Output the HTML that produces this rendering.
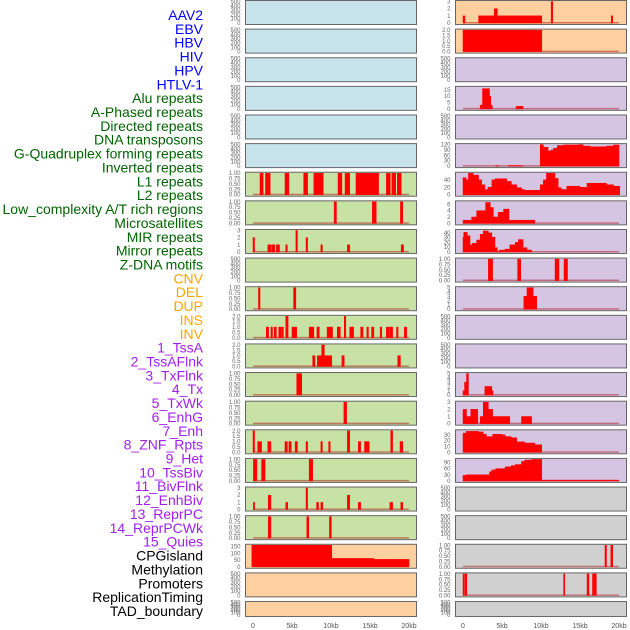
<!DOCTYPE html>
<html><head><meta charset="utf-8">
<style>
html,body{margin:0;padding:0;background:#fff;}
svg{display:block;font-family:"Liberation Sans",sans-serif;}
</style></head>
<body>
<svg id="chart" width="630" height="630" viewBox="0 0 630 630"></svg>
<script>
// ---- labels ----
const featureLabels = ["AAV2","EBV","HBV","HIV","HPV","HTLV-1","Alu repeats","A-Phased repeats","Directed repeats","DNA transposons","G-Quadruplex forming repeats","Inverted repeats","L1 repeats","L2 repeats","Low_complexity A/T rich regions","Microsatellites","MIR repeats","Mirror repeats","Z-DNA motifs","CNV","DEL","DUP","INS","INV","1_TssA","2_TssAFlnk","3_TxFlnk","4_Tx","5_TxWk","6_EnhG","7_Enh","8_ZNF_Rpts","9_Het","10_TssBiv","11_BivFlnk","12_EnhBiv","13_ReprPC","14_ReprPCWk","15_Quies","CPGisland","Methylation","Promoters","ReplicationTiming","TAD_boundary"];
const xTickValues = [0,5,10,15,20];
const xTickLabels = ["0","5kb","10kb","15kb","20kb"];

// ---- data: [startKb, endKb, value] ----
const alu = [[0.9,1.3,1],[1.6,2.2,1],[4.1,4.6,1],[6.5,7.0,1],[7.8,9.0,1],[10.9,11.4,1],[11.8,12.4,1],[13.2,16.1,1],[17.1,17.6,1],[17.8,18.3,1],[18.5,19.0,1]];
const aPhased = [[10.4,10.7,1],[15.3,15.8,1],[18.9,19.2,1]];
const directed = [[0.0,0.2,2],[1.9,2.3,1],[2.4,2.8,1],[3.0,3.4,1],[4.2,4.4,1],[5.5,5.7,3],[6.8,7.0,2],[8.7,8.9,1],[12.1,12.4,1],[19.0,19.3,1]];
const gQuad = [[0.7,0.9,1],[5.2,5.5,1]];
const inverted = [[1.7,2.0,1],[2.3,2.5,1],[2.7,3.0,1],[3.3,3.6,1],[3.7,3.9,1],[4.2,4.5,2],[5.0,5.6,1],[7.2,7.8,1],[8.2,8.5,1],[9.5,10.2,1],[10.8,11.2,1],[11.7,11.9,2],[12.4,12.9,1],[13.8,14.1,1],[14.6,14.8,1],[15.2,15.5,1],[16.3,16.5,1],[17.1,17.5,1],[17.6,17.9,1],[18.4,18.6,1],[19.4,19.7,1]];
const l1 = [[7.65,7.95,1],[8.25,8.8,1],[8.8,9.15,2],[9.15,10.1,1],[11.4,11.7,1],[18.55,18.9,1]];
const l2 = [[5.6,6.25,1]];
const lowComplexity = [[11.65,12.0,1]];
const microsat = [[0.0,0.2,2],[0.6,1.1,1],[1.9,2.3,1],[4.1,4.4,1],[4.6,4.9,1],[5.4,5.7,1],[6.8,7.0,1],[8.7,8.9,1],[9.7,9.9,1],[12.1,12.4,2],[13.5,13.8,1],[14.3,14.6,1],[14.6,14.9,1],[17.65,17.9,2],[18.85,19.2,1]];
const mir = [[0.05,0.5,1],[1.1,1.55,1],[7.2,7.65,1]];
const mirror = [[0.05,0.2,1],[1.95,2.3,2],[4.2,4.45,1],[6.8,7.0,3],[8.15,8.4,1],[8.7,8.95,1],[12.1,12.4,2],[13.5,13.8,1],[17.55,17.9,1],[18.95,19.2,1]];
const zdna = [[1.95,2.3,1],[6.9,7.15,1],[9.8,10.05,1]];
const cnv = [[-0.15,10.1,160],[10.1,15.5,62],[15.5,20,55]];
const ins = [[0,0.25,1],[2.0,10.1,1],[4.0,4.4,2],[11.3,11.5,3],[19.0,19.2,1]];
const inv = [[0,10.1,2]];
const tssAFlnk = [[2.2,2.5,3],[2.5,3.4,16],[3.4,3.5,10],[3.5,3.75,3],[6.8,7.7,2]];
const tx = [[4.2,4.5,3],[5.8,7.65,3],[9.9,10.3,120],[10.3,10.9,105],[10.9,11.3,85],[11.3,11.6,90],[11.6,12.1,100],[12.1,12.9,115],[12.9,14.8,118],[14.8,15.4,120],[15.4,16.3,112],[16.3,18.4,108],[18.4,19.3,112],[19.3,20,118]];
const txWk = [[0,0.4,46],[0.4,0.7,40],[0.7,1.3,60],[1.3,2.0,53],[2.0,2.4,40],[2.4,2.8,27],[2.8,3.2,14],[3.2,3.7,20],[3.7,4.1,40],[4.1,5.6,43],[5.6,6.2,36],[6.2,6.9,27],[6.9,7.5,19],[7.5,7.9,14],[7.9,9.9,12],[9.9,10.3,27],[10.3,10.7,40],[10.7,11.8,60],[11.8,12.2,44],[12.2,12.6,19],[12.6,13.3,14],[13.3,15.0,23],[15.0,15.9,20],[15.9,18.4,31],[18.4,19.3,27],[19.3,20.1,23]];
const enhG = [[0,1.1,1],[1.1,1.75,2],[1.75,2.9,4],[2.9,3.5,6.6],[3.5,3.9,5],[3.9,4.5,2],[4.5,5.2,3.5],[5.2,5.9,4.5],[5.9,9.2,1]];
const enh = [[0,0.1,31],[0.1,0.55,41],[0.55,0.9,34],[0.9,1.2,15],[1.2,1.75,18],[1.75,2.2,25],[2.2,2.6,37],[2.6,3.25,44],[3.25,3.7,40],[3.7,4.1,31],[4.1,4.4,9],[4.4,4.7,2],[4.7,5.4,4],[5.4,6.0,6],[6.0,6.7,15],[6.7,7.1,20],[7.1,7.7,26],[7.7,8.2,9],[8.2,8.8,4]];
const znf = [[3.25,3.8,1],[7.0,7.4,1],[11.8,12.3,1],[12.95,13.4,1]];
const het = [[7.8,8.2,3],[8.2,9.0,5],[9.0,9.45,3]];
const enhBiv = [[0,0.2,1],[0.2,0.45,3],[0.45,0.7,5],[2.8,3.7,2],[3.7,3.8,1]];
const reprPC = [[0,0.45,2],[0.45,1.0,1],[1.0,1.9,2],[2.2,2.6,1],[2.6,3.25,3],[3.25,3.8,2],[3.8,6.0,1],[7.5,8.8,1]];
const reprPCWk = [[0,0.4,33],[0.4,2.0,36],[2.0,2.6,35],[2.6,3.0,31],[3.0,3.8,27],[3.8,5.0,31],[5.0,5.4,30],[5.4,6.2,27],[6.2,6.9,25],[6.9,7.9,18],[7.9,9.2,16],[9.2,10.1,13]];
const quies = [[0,0.4,27],[0.4,3.4,30],[3.4,3.7,45],[3.7,4.2,54],[4.2,5.4,60],[5.4,6.2,69],[6.2,6.7,75],[6.7,7.5,80],[7.5,7.9,95],[7.9,8.8,102],[8.8,10.1,110],[10.1,20.0,4]];
const promoters = [[18.2,18.4,1],[18.95,19.2,1]];
const replication = [[0.0,0.15,1],[0.25,0.5,1],[12.9,13.05,1],[15.9,16.15,1],[16.6,17.1,1]];

const emptyTicks = [0,100,200,300,400,500];
const t01 = [0,0.25,0.5,0.75,1];
const t02 = [0,0.5,1,1.5,2];

const BLUE="#c7e3eb", GREEN="#c8e1a4", ORANGE="#ffd09f", PURPLE="#d5c5e2", GREY="#d0d0d0";
const leftPanels = [
 ["AAV2",null,emptyTicks,500,BLUE],["EBV",null,emptyTicks,500,BLUE],["HBV",null,emptyTicks,500,BLUE],
 ["HIV",null,emptyTicks,500,BLUE],["HPV",null,emptyTicks,500,BLUE],["HTLV-1",null,emptyTicks,500,BLUE],
 ["alu",alu,t01,1,GREEN],["a-phased",aPhased,t01,1,GREEN],["directed",directed,[0,1,2,3],3,GREEN],
 ["dna-transposons",null,emptyTicks,500,GREEN],["g-quadruplex",gQuad,t01,1,GREEN],["inverted",inverted,t02,2,GREEN],
 ["l1",l1,t02,2,GREEN],["l2",l2,t01,1,GREEN],["low-complexity",lowComplexity,t01,1,GREEN],
 ["microsatellites",microsat,t02,2,GREEN],["mir",mir,t01,1,GREEN],["mirror",mirror,[0,1,2,3],3,GREEN],
 ["z-dna",zdna,t01,1,GREEN],["cnv",cnv,[0,50,100,150],160,ORANGE],["del",null,emptyTicks,500,ORANGE],["dup",null,emptyTicks,500,ORANGE]
];
const rightPanels = [
 ["ins",ins,[0,1,2,3],3,ORANGE],["inv",inv,t02,2,ORANGE],["tssa",null,emptyTicks,500,PURPLE],
 ["tssaflnk",tssAFlnk,[0,5,10,15],17,PURPLE],["txflnk",null,emptyTicks,500,PURPLE],["tx",tx,[0,30,60,90,120],120,PURPLE],
 ["txwk",txWk,[0,20,40],58,PURPLE],["enhg",enhG,[0,2,4,6],6.8,PURPLE],["enh",enh,[0,10,20,30,40],45,PURPLE],
 ["znf",znf,t01,1,PURPLE],["het",het,[0,1,2,3,4,5],5,PURPLE],["tssbiv",null,emptyTicks,500,PURPLE],
 ["bivflnk",null,emptyTicks,500,PURPLE],["enhbiv",enhBiv,[0,1,2,3,4,5],5,PURPLE],["reprpc",reprPC,[0,1,2,3],3,PURPLE],
 ["reprpcwk",reprPCWk,[0,10,20,30],37,PURPLE],["quies",quies,[0,30,60,90],105,PURPLE],["cpgisland",null,emptyTicks,500,GREY],
 ["methylation",null,emptyTicks,500,GREY],["promoters",promoters,t01,1,GREY],["replication",replication,t01,1,GREY],["tad",null,emptyTicks,500,GREY]
];

const NS="http://www.w3.org/2000/svg";
const svg=document.getElementById('chart');
function mk(tag,attrs,parent){const e=document.createElementNS(NS,tag);for(const k in attrs)e.setAttribute(k,attrs[k]);(parent||svg).appendChild(e);return e;}

featureLabels.forEach((lab,i)=>{
  let c="#0000ff";
  if(i>=6&&i<19)c="#006400"; else if(i>=19&&i<24)c="#ffa500"; else if(i>=24&&i<39)c="#a020f0"; else if(i>=39)c="#000";
  const t=mk('text',{x:203,y:20+i*13.86,'text-anchor':'end','font-size':'14',fill:c});
  
  
  t.textContent=lab;
});

function fmt(v,ticks){
  if(ticks===t01)return v.toFixed(2);
  if(ticks===t02)return v.toFixed(1);
  return String(v);
}

function drawColumn(panels,px0,kb0x){
  const pxW=171, scale=7.8;
  const xOf=kb=>kb0x+kb*scale;
  panels.forEach((p,i)=>{
    const [name,data,ticks,yMax,bg]=p;
    const top=0.5+28.62*i, h=(i===21)?15:24;
    const g=mk('g',{});
    
    
    const r=mk('rect',{x:px0,y:top,width:pxW,height:h,fill:bg,stroke:'#666','stroke-width':1},g);
    
    
    const y0=top+h-1.5, y1=top+1;
    const yOf=v=>y0-(Math.min(v,yMax)/yMax)*(y0-y1);
    ticks.forEach(tv=>{
      const tt=mk('text',{x:px0-5,y:yOf(tv)+2,'text-anchor':'end','font-size':'6',fill:'#666'},g);
      
      
      tt.textContent=fmt(tv,ticks);
    });
    if(data){
      const clip=mk('clipPath',{id:'c-'+name},g);
      mk('rect',{x:px0,y:top,width:pxW,height:h},clip);
      const bg2=mk('g',{'clip-path':'url(#c-'+name+')'},g);
      const bl=mk('rect',{x:xOf(0),y:y0-1,width:20*scale,height:1.5,fill:'rgba(170,0,0,0.45)'},bg2);
      
      
      data.forEach(d=>{
        const x=xOf(d[0]), w=Math.max(1.2,xOf(d[1])-x);
        const b=mk('rect',{x:x,y:yOf(d[2]),width:w,height:y0-yOf(d[2]),fill:'#ff0000',stroke:'#ff0000','stroke-width':0.5},bg2);
        
        
      });
    }
  });
  xTickValues.forEach((v,j)=>{
    const t=mk('text',{x:xOf(v),y:628,'text-anchor':'middle','font-size':'7',fill:'#555'});
    
    
    t.textContent=xTickLabels[j];
  });
}
drawColumn(leftPanels,245.5,253);
drawColumn(rightPanels,455.5,463);
</script>
</body></html>
